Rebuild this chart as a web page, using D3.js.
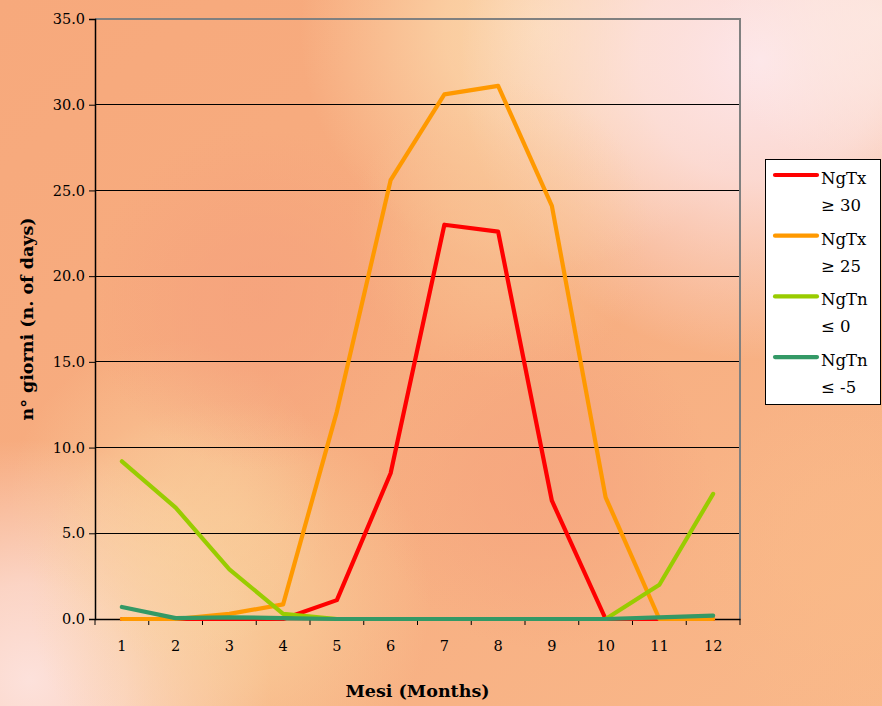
<!DOCTYPE html>
<html><head><meta charset="utf-8">
<script src="https://cdn.jsdelivr.net/npm/d3@7/dist/d3.min.js"></script>
<style>html,body{margin:0;padding:0;overflow:hidden;background:#f8b88a}</style>
</head><body>
<svg id="chart" width="882" height="706"></svg>
<script>
const months = ["1","2","3","4","5","6","7","8","9","10","11","12"];
const ngTx30 = [0, 0, 0, 0, 1.1, 8.5, 23.0, 22.6, 6.9, 0, 0, 0];
const ngTx25 = [0, 0, 0.3, 0.85, 12.1, 25.6, 30.6, 31.1, 24.1, 7.1, 0, 0];
const ngTn0  = [9.2, 6.5, 2.9, 0.3, 0, 0, 0, 0, 0, 0, 2.0, 7.3];
const ngTn5  = [0.7, 0.05, 0.1, 0.05, 0, 0, 0, 0, 0, 0, 0.1, 0.2];
const yTicks = [0, 5, 10, 15, 20, 25, 30, 35];
const seriesNames = [["NgTx", "\u2265 30"], ["NgTx", "\u2265 25"], ["NgTn", "\u2264 0"], ["NgTn", "\u2264 -5"]];
const seriesColors = ["#ff0000", "#ff9900", "#99cc00", "#339966"];
const seriesData = [ngTx30, ngTx25, ngTn0, ngTn5];

const svg = d3.select("#chart");
const W = 882, H = 706;
const defs = svg.append("defs");

// background
const lg = defs.append("linearGradient").attr("id","bg").attr("x1","0").attr("y1","0").attr("x2","1").attr("y2","1");
lg.append("stop").attr("offset","0").attr("stop-color","#f7a97c");
lg.append("stop").attr("offset","0.5").attr("stop-color","#f7ad80");
lg.append("stop").attr("offset","1").attr("stop-color","#f9b88a");
svg.append("rect").attr("width",W).attr("height",H).attr("fill","url(#bg)");
const blobs = [
  {cx:540,cy:30,r:240,c:"#fcdcb0",o:0.9},
  {cx:760,cy:60,r:300,c:"#fde6ea",o:1},
  {cx:880,cy:20,r:160,c:"#fdeae4",o:0.8},
  {cx:30,cy:680,r:240,c:"#fde4e0",o:0.95},
  {cx:230,cy:600,r:200,c:"#f9d49f",o:0.7},
  {cx:170,cy:500,r:160,c:"#fad6a4",o:0.5},
  {cx:500,cy:230,r:150,c:"#f9c898",o:0.55},
  {cx:260,cy:300,r:170,c:"#f59f7c",o:0.6},
  {cx:540,cy:480,r:170,c:"#f5a07c",o:0.55},
  {cx:860,cy:560,r:180,c:"#fabb88",o:0.6}
];
blobs.forEach((b,i)=>{
  const rg = defs.append("radialGradient").attr("id","b"+i);
  rg.append("stop").attr("offset","0").attr("stop-color",b.c).attr("stop-opacity",b.o);
  rg.append("stop").attr("offset","0.4").attr("stop-color",b.c).attr("stop-opacity",b.o*0.75);
  rg.append("stop").attr("offset","1").attr("stop-color",b.c).attr("stop-opacity",0);
  svg.append("circle").attr("cx",b.cx).attr("cy",b.cy).attr("r",b.r).attr("fill","url(#b"+i+")");
});

const pL = 95, pR = 740, pT = 19, pB = 619;
const x = d3.scaleBand().domain(months).range([pL, pR]).padding(0);
const y = d3.scaleLinear().domain([0, 35]).range([pB, pT]);
const serif = "'DejaVu Serif', serif";

// gridlines
svg.append("g").selectAll("line").data(yTicks.filter(d=>d>0 && d<35)).join("line")
  .attr("x1",pL).attr("x2",pR).attr("y1",d=>y(d)).attr("y2",d=>y(d))
  .attr("stroke","#000").attr("stroke-width",1).attr("shape-rendering","crispEdges");
// plot border top/right
svg.append("path").attr("d",`M${pL},${pT}H${pR}V${pB}`).attr("fill","none")
  .attr("stroke","#808080").attr("stroke-width",1.5).attr("shape-rendering","crispEdges");

// y axis
const yAxis = d3.axisLeft(y).tickValues(yTicks).tickSize(6).tickFormat(d3.format(".1f"));
const gy = svg.append("g").attr("transform",`translate(${pL},0)`).call(yAxis);
gy.select(".domain").attr("stroke","#000").attr("stroke-width",1.5);
gy.selectAll(".tick line").attr("stroke","#000");
gy.selectAll(".tick text").attr("font-family",serif).attr("font-size",14.5).attr("fill","#000").attr("x",-10);

// x axis
const xAxis = d3.axisBottom(x).tickSize(0);
const gx = svg.append("g").attr("transform",`translate(0,${pB})`).call(xAxis);
gx.select(".domain").attr("stroke","#000").attr("stroke-width",1.5);
gx.selectAll(".tick text").attr("font-family",serif).attr("font-size",14.5).attr("fill","#000").attr("y",22).attr("dy","0.71em");
// tick marks between categories
const bounds = d3.range(0, months.length + 1).map(i => pL + i * x.bandwidth());
svg.append("g").selectAll("line").data(bounds).join("line")
  .attr("x1",d=>d).attr("x2",d=>d).attr("y1",pB).attr("y2",pB+6)
  .attr("stroke","#000").attr("stroke-width",1);

// lines
const line = d3.line().x((d,i)=>x(months[i]) + x.bandwidth()/2).y(d=>y(d));
seriesData.forEach((s,i)=>{
  svg.append("path").datum(s).attr("d",line).attr("fill","none")
    .attr("stroke",seriesColors[i]).attr("stroke-width",4.2)
    .attr("stroke-linejoin","round").attr("stroke-linecap","round");
});

// axis titles
svg.append("text").attr("x",(pL+pR)/2).attr("y",697).attr("text-anchor","middle")
  .attr("font-family",serif).attr("font-weight","bold").attr("font-size",17.5).text("Mesi (Months)");
svg.append("text").attr("transform",`translate(33,${(pT+pB)/2}) rotate(-90)`).attr("text-anchor","middle")
  .attr("font-family",serif).attr("font-weight","bold").attr("font-size",17.5).text("n° giorni (n. of days)");

// legend
const lgG = svg.append("g");
lgG.append("rect").attr("x",765.5).attr("y",159.5).attr("width",115).attr("height",245)
  .attr("fill","#fff").attr("stroke","#000").attr("stroke-width",1);
seriesNames.forEach((n,i)=>{
  const yy = 175 + i*60.7;
  lgG.append("line").attr("x1",775).attr("x2",817).attr("y1",yy).attr("y2",yy)
    .attr("stroke",seriesColors[i]).attr("stroke-width",4.2).attr("stroke-linecap","round");
  lgG.append("text").attr("x",821).attr("y",yy+9).attr("font-family",serif).attr("font-size",16.5).text(n[0]);
  lgG.append("text").attr("x",821).attr("y",yy+36).attr("font-family",serif).attr("font-size",16.5).text(n[1]);
});
</script>
</body></html>
